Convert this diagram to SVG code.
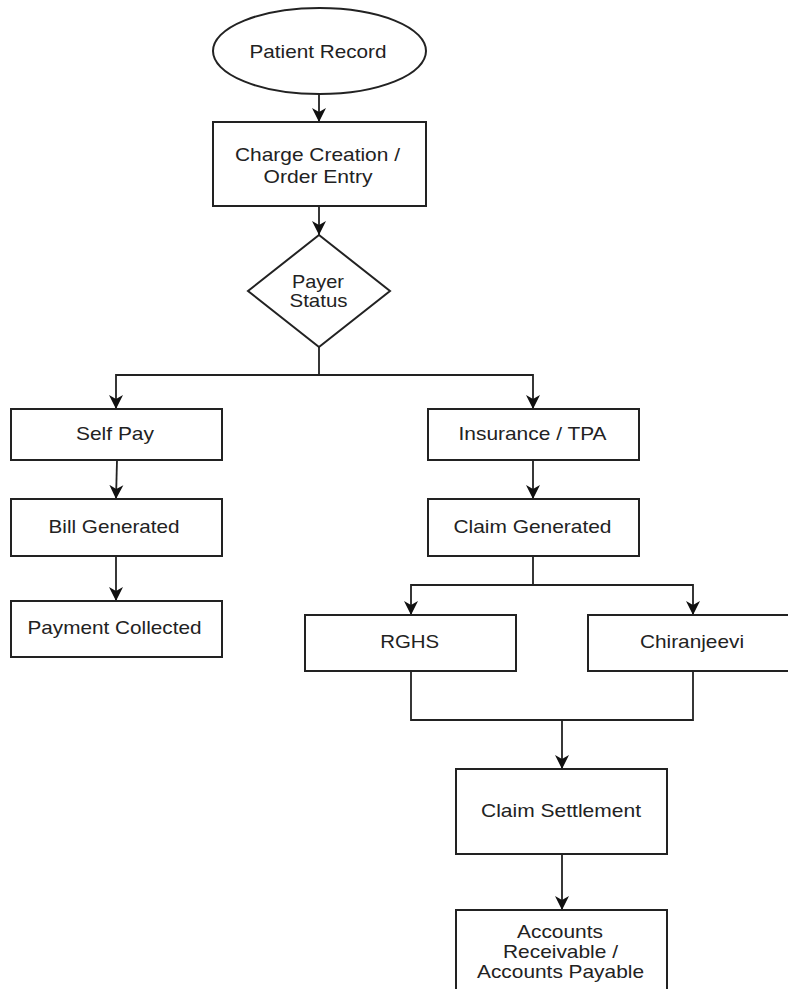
<svg xmlns="http://www.w3.org/2000/svg" width="788" height="989" viewBox="0 0 788 989">
  <defs>
    <marker id="arrow" markerUnits="userSpaceOnUse" markerWidth="16" markerHeight="16" refX="14" refY="8" orient="auto">
      <path d="M0,1 L14,8 L0,15 L4,8 z" fill="#111"/>
    </marker>
    <style>
      .shape { fill: #fff; stroke: #222; stroke-width: 2; }
      .edge { fill: none; stroke: #222; stroke-width: 1.8; }
      .arrow { marker-end: url(#arrow); }
      text { font-family: "Liberation Sans", Arial, sans-serif; font-size: 18.5px; fill: #222; text-anchor: middle; }
    </style>
  </defs>
  <rect width="788" height="989" fill="#fff"/>

  <!-- connectors -->
  <g id="connectors">
    <path class="edge arrow" d="M319,94 V122"/>
    <path class="edge arrow" d="M319,206 V235"/>
    <path class="edge arrow" d="M319,347 V375 H116 V409"/>
    <path class="edge arrow" d="M319,375 H533 V409"/>
    <path class="edge arrow" d="M117,460 L116,499"/>
    <path class="edge arrow" d="M116,556 V601"/>
    <path class="edge arrow" d="M533,460 V499"/>
    <path class="edge arrow" d="M533,556 V585 H411 V615"/>
    <path class="edge arrow" d="M533,585 H693 V615"/>
    <path class="edge" d="M411,671 V720 H693 V671"/>
    <path class="edge arrow" d="M562,720 V769"/>
    <path class="edge arrow" d="M562,854 V910"/>
  </g>

  <g id="patient-record">
    <ellipse class="shape" cx="319.5" cy="51" rx="106.5" ry="43"/>
    <text x="318" y="57.5" textLength="137" lengthAdjust="spacingAndGlyphs">Patient Record</text>
  </g>

  <g id="charge-creation">
    <rect class="shape" x="213" y="122" width="213" height="84"/>
    <text x="317.5" y="160.5" textLength="165" lengthAdjust="spacingAndGlyphs">Charge Creation /</text>
    <text x="318" y="182.5" textLength="109" lengthAdjust="spacingAndGlyphs">Order Entry</text>
  </g>

  <g id="payer-status">
    <polygon class="shape" points="319,235 390,291 319,347 248,291"/>
    <text x="318" y="287.5" textLength="52" lengthAdjust="spacingAndGlyphs">Payer</text>
    <text x="318.5" y="307" textLength="58" lengthAdjust="spacingAndGlyphs">Status</text>
  </g>

  <g id="self-pay">
    <rect class="shape" x="11" y="409" width="211" height="51"/>
    <text x="115" y="439.5" textLength="78" lengthAdjust="spacingAndGlyphs">Self Pay</text>
  </g>

  <g id="bill-generated">
    <rect class="shape" x="11" y="499" width="211" height="57"/>
    <text x="114" y="533" textLength="131" lengthAdjust="spacingAndGlyphs">Bill Generated</text>
  </g>

  <g id="payment-collected">
    <rect class="shape" x="11" y="601" width="211" height="56"/>
    <text x="114.5" y="634" textLength="174" lengthAdjust="spacingAndGlyphs">Payment Collected</text>
  </g>

  <g id="insurance-tpa">
    <rect class="shape" x="428" y="409" width="211" height="51"/>
    <text x="532.5" y="440" textLength="148" lengthAdjust="spacingAndGlyphs">Insurance / TPA</text>
  </g>

  <g id="claim-generated">
    <rect class="shape" x="428" y="499" width="211" height="57"/>
    <text x="532.5" y="533" textLength="158" lengthAdjust="spacingAndGlyphs">Claim Generated</text>
  </g>

  <g id="rghs">
    <rect class="shape" x="305" y="615" width="211" height="56"/>
    <text x="409.7" y="648" textLength="59" lengthAdjust="spacingAndGlyphs">RGHS</text>
  </g>

  <g id="chiranjeevi">
    <rect class="shape" x="588" y="615" width="212" height="56"/>
    <text x="692" y="648" textLength="104" lengthAdjust="spacingAndGlyphs">Chiranjeevi</text>
  </g>

  <g id="claim-settlement">
    <rect class="shape" x="456" y="769" width="211" height="85"/>
    <text x="561" y="817" textLength="160" lengthAdjust="spacingAndGlyphs">Claim Settlement</text>
  </g>

  <g id="accounts">
    <rect class="shape" x="456" y="910" width="211" height="90"/>
    <text x="560" y="938" textLength="86" lengthAdjust="spacingAndGlyphs">Accounts</text>
    <text x="560.5" y="958" textLength="115" lengthAdjust="spacingAndGlyphs">Receivable /</text>
    <text x="560.5" y="978" textLength="167" lengthAdjust="spacingAndGlyphs">Accounts Payable</text>
  </g>
</svg>
